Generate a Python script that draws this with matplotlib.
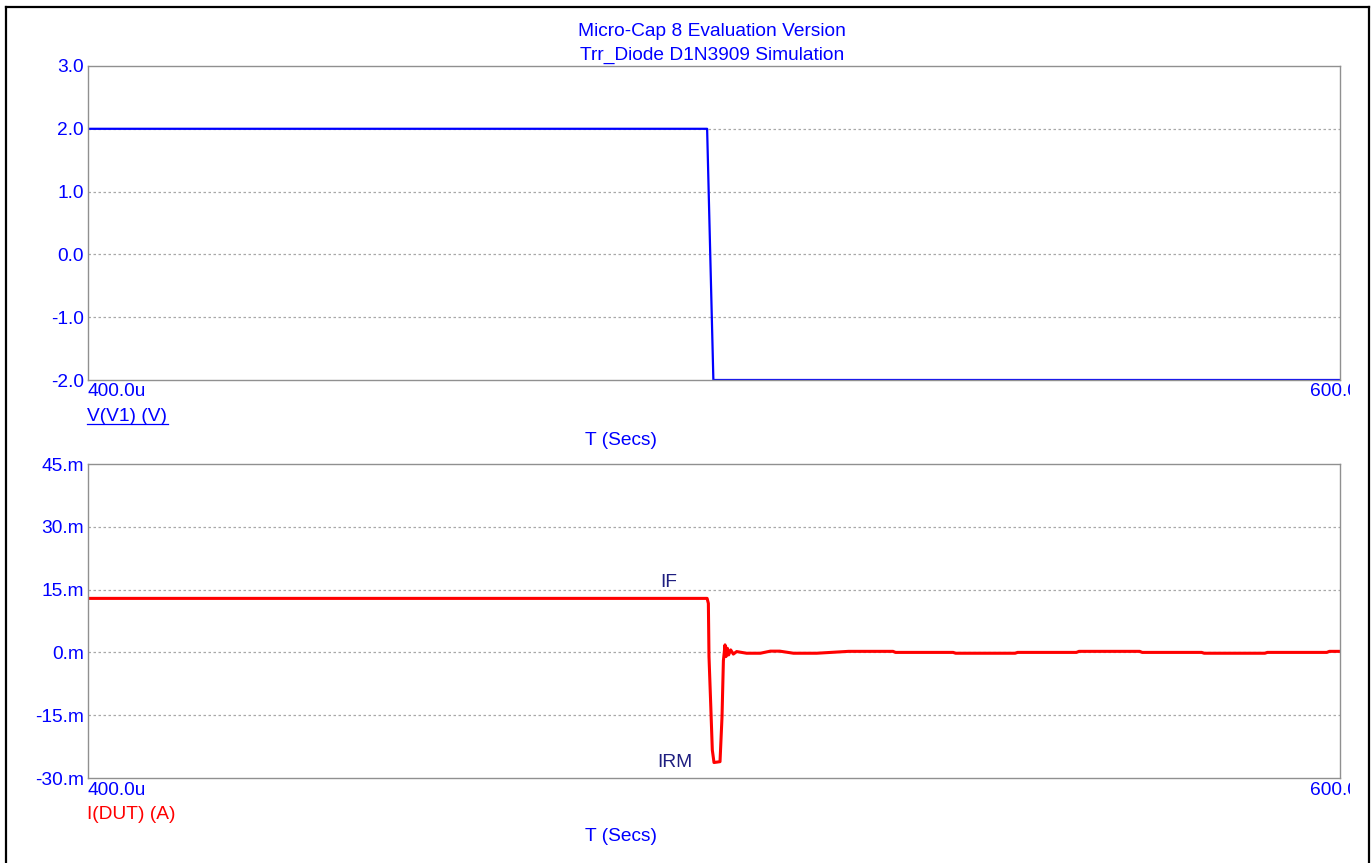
import numpy as np
import matplotlib
matplotlib.use("Agg")
import matplotlib.pyplot as plt
from matplotlib.lines import Line2D
from matplotlib.transforms import Bbox

plt.rcParams['font.family'] = ['Liberation Sans', 'DejaVu Sans']

# time axis in microseconds
t_v = [400.0, 498.9, 499.9, 600.0]
v1 = [2.0, 2.0, -2.0, -2.0]

t_i = [400.0, 498.9, 499.1, 499.2, 499.47, 499.73, 500.0, 500.96, 501.28, 501.5,
       501.76, 501.92, 502.13, 502.34, 502.66, 503.09, 503.62, 505.2, 507.4, 509.0,
       510.5, 512.7, 516.4, 521.5, 528.6, 529.0, 538.2, 538.6, 548.1, 548.5,
       557.9, 558.3, 568.0, 568.4, 577.9, 578.3, 588.0, 588.4, 597.9, 598.3, 600.0]
i_dut = [12.9, 12.9, 11.7, -1.0, -12.2, -23.3, -26.3, -26.1, -15.4, -2.0,
         1.8, -1.0, 1.0, -0.6, 0.6, -0.4, 0.2, -0.2, -0.2, 0.3,
         0.3, -0.2, -0.2, 0.25, 0.25, 0.0, 0.0, -0.2, -0.2, 0.0,
         0.0, 0.25, 0.25, 0.0, 0.0, -0.2, -0.2, 0.0, 0.0, 0.25, 0.25]

v_ticks = [-2.0, -1.0, 0.0, 1.0, 2.0, 3.0]
v_labels = ['-2.0', '-1.0', '0.0', '1.0', '2.0', '3.0']
i_ticks = [-30, -15, 0, 15, 30, 45]
i_labels = ['-30.m', '-15.m', '0.m', '15.m', '30.m', '45.m']
x_labels = ['400.0u', '600.0u']

W, H = 1372, 863
fig = plt.figure(figsize=(W / 100, H / 100), dpi=100)


def fx(px):
    return px / W


def fy(py):
    return 1 - py / H


blue = '#0000ff'
navy = '#1e1e80'
fs = 13.8


def make_axes(top, bottom):
    ax = fig.add_axes([fx(88), fy(bottom), fx(1340) - fx(88), fy(top) - fy(bottom)])
    for s in ax.spines.values():
        s.set_color('#909090')
        s.set_linewidth(1.0)
    ax.set_xlim(400, 600)
    ax.set_xticks([])
    ax.tick_params(axis='y', length=0, pad=3, labelsize=fs, labelcolor=blue)
    return ax


ax1 = make_axes(66, 380)
ax1.plot(t_v, v1, color=blue, lw=1.6)
ax1.set_ylim(-2, 3)
ax1.set_yticks(v_ticks)
ax1.set_yticklabels(v_labels)
for y in v_ticks[1:-1]:
    ax1.axhline(y, color='#a8a8a8', lw=0.9, ls=(0, (2, 2)), zorder=0)

ax2 = make_axes(464, 778)
ax2.plot(t_i, i_dut, color='#ff0000', lw=2.2)
ax2.set_ylim(-30, 45)
ax2.set_yticks(i_ticks)
ax2.set_yticklabels(i_labels)
for y in i_ticks[1:-1]:
    ax2.axhline(y, color='#a8a8a8', lw=0.9, ls=(0, (2, 2)), zorder=0)

ax2.text(492.8, 16.6, 'IF', color=navy, fontsize=fs, ha='center', va='center')
ax2.text(493.8, -26.4, 'IRM', color=navy, fontsize=fs, ha='center', va='center')

# titles
fig.text(fx(712), fy(31), 'Micro-Cap 8 Evaluation Version', color=blue,
         fontsize=fs, ha='center', va='center')
fig.text(fx(712), fy(55), 'Trr_Diode D1N3909 Simulation', color=blue,
         fontsize=fs, ha='center', va='center')

clip = Bbox.from_extents(0, 0, 1350, H)
for row, name, ncol, ty in [(392, 'V(V1) (V)', blue, 440), (790, 'I(DUT) (A)', '#ff0000', 836)]:
    fig.text(fx(87), fy(row), x_labels[0], color=blue, fontsize=fs, ha='left', va='center')
    t = fig.text(fx(1310), fy(row), x_labels[1], color=blue, fontsize=fs,
                 ha='left', va='center', clip_on=True)
    t.set_clip_box(clip)
    fig.text(fx(87), fy(row + 24), name, color=ncol, fontsize=fs, ha='left', va='center')
    fig.text(fx(621), fy(ty), 'T (Secs)', color=blue, fontsize=fs, ha='center', va='center')

# underline of the first trace name
fig.add_artist(Line2D([fx(87), fx(168)], [fy(424), fy(424)], color=blue, lw=0.9))

# outer frame
for xs, ys in [([6, 6], [7, H + 5]), ([6, 1369], [7, 7]), ([1369, 1369], [7, H + 5])]:
    fig.add_artist(Line2D([fx(x) for x in xs], [fy(y) for y in ys], color='black', lw=1.6))

fig.savefig('out.png', dpi=100)
